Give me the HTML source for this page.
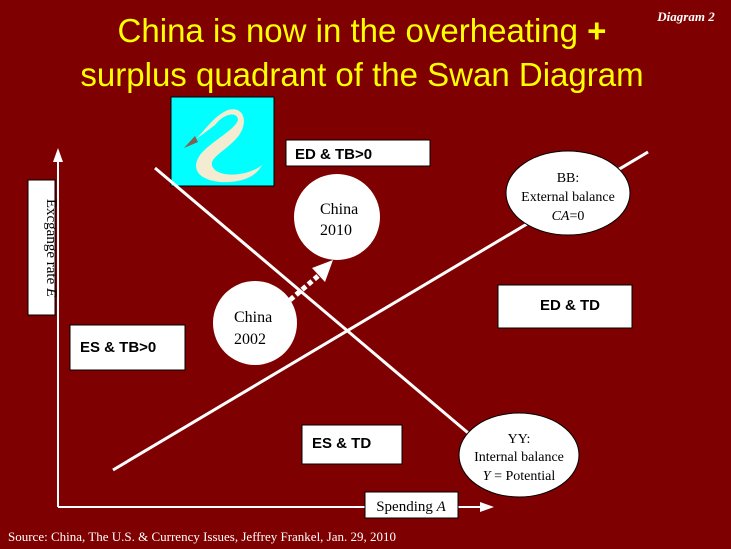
<!DOCTYPE html>
<html><head><meta charset="utf-8"><style>
body{margin:0;width:731px;height:549px;overflow:hidden;background:#7f0000}
</style></head><body>
<svg width="731" height="549" xmlns="http://www.w3.org/2000/svg" style="display:block">
<rect width="731" height="549" fill="#7f0000"/>
<text x="362" y="42" text-anchor="middle" font-family="Liberation Sans, sans-serif" font-size="33" fill="#ffff00">China is now in the overheating <tspan font-weight="bold">+</tspan></text>
<text x="362" y="86" text-anchor="middle" font-family="Liberation Sans, sans-serif" font-size="33" fill="#ffff00">surplus quadrant of the Swan Diagram</text>
<text x="686" y="21" text-anchor="middle" font-family="Liberation Serif, serif" font-size="13" font-style="italic" font-weight="bold" fill="#fff">Diagram 2</text>
<!-- swan -->
<rect x="171" y="97" width="103" height="89" fill="#00ffff" stroke="#000"/>
<path d="M195 140 C205 130 215 115 228 110 C245 105 250 125 235 140 C220 155 205 160 215 170 C225 178 250 175 262 165 C255 178 240 183 220 182 C200 180 190 170 200 155 C210 142 235 130 238 120 C238 112 225 112 215 125 Z" fill="#f3ecd0"/>
<path d="M184 148 L195 136 L198 142 Z" fill="#806050"/>
<!-- axes -->
<line x1="58" y1="507" x2="58" y2="158" stroke="#fff" stroke-width="2"/>
<path d="M53 162 L58 148 L63 162 Z" fill="#fff"/>
<line x1="58" y1="507" x2="485" y2="507" stroke="#fff" stroke-width="2"/>
<path d="M480 502 L494 507 L480 512 Z" fill="#fff"/>
<!-- lines -->
<line x1="155" y1="168" x2="480" y2="443" stroke="#fff" stroke-width="3"/>
<line x1="113" y1="470" x2="648" y2="152" stroke="#fff" stroke-width="3"/>
<!-- boxes -->
<g font-family="Liberation Sans, sans-serif" font-weight="bold" font-size="15" fill="#000">
<rect x="286" y="140" width="144" height="26" fill="#fff" stroke="#000"/>
<text x="295" y="159">ED &amp; TB&gt;0</text>
<rect x="498" y="285" width="134" height="43" fill="#fff" stroke="#000"/>
<text x="540" y="310">ED &amp; TD</text>
<rect x="70" y="325" width="115" height="45" fill="#fff" stroke="#000"/>
<text x="80" y="352">ES &amp; TB&gt;0</text>
<rect x="302" y="425" width="100" height="39" fill="#fff" stroke="#000"/>
<text x="312" y="448">ES &amp; TD</text>
</g>
<!-- axis labels -->
<rect x="28" y="180" width="27" height="135" fill="#fff" stroke="#000"/>
<text transform="translate(47,248) rotate(90)" text-anchor="middle" font-family="Liberation Serif, serif" font-size="15">Excgange rate <tspan font-style="italic">E</tspan></text>
<rect x="365" y="492" width="93" height="26" fill="#fff" stroke="#000"/>
<text x="411" y="511" text-anchor="middle" font-family="Liberation Serif, serif" font-size="15">Spending <tspan font-style="italic">A</tspan></text>
<!-- arrow -->
<line x1="290" y1="300" x2="318" y2="276" stroke="#fff" stroke-width="5" stroke-dasharray="5,3"/>
<path d="M312 268 L333 260 L325 282 Z" fill="#fff"/>
<g font-family="Liberation Serif, serif" font-size="16" fill="#000">
<circle cx="337" cy="217" r="43" fill="#fff"/>
<text x="320" y="214">China</text><text x="320" y="235">2010</text>
<circle cx="255" cy="323" r="42" fill="#fff"/>
<text x="234" y="322">China</text><text x="234" y="344">2002</text>
<ellipse cx="568" cy="193" rx="62" ry="42" fill="#fff" stroke="#000"/>
<text x="568" y="182" text-anchor="middle" font-size="14">BB:</text>
<text x="568" y="201" text-anchor="middle" font-size="14">External balance</text>
<text x="568" y="220" text-anchor="middle" font-size="14"><tspan font-style="italic">CA</tspan>=0</text>
<ellipse cx="519" cy="455" rx="60" ry="42" fill="#fff" stroke="#000"/>
<text x="519" y="443" text-anchor="middle" font-size="14">YY:</text>
<text x="519" y="461" text-anchor="middle" font-size="14">Internal balance</text>
<text x="519" y="480" text-anchor="middle" font-size="14"><tspan font-style="italic">Y</tspan> = Potential</text>
</g>
<text x="8" y="541" font-family="Liberation Serif, serif" font-size="13" fill="#fff">Source:  China, The U.S. &amp; Currency Issues, Jeffrey Frankel, Jan. 29, 2010</text>
</svg>
</body></html>
